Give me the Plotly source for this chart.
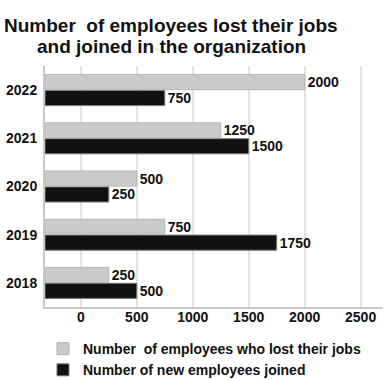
import plotly.graph_objects as go

years = ["2018", "2019", "2020", "2021", "2022"]
lost_jobs = [250, 750, 500, 1250, 2000]
new_joined = [500, 1750, 250, 1500, 750]
x_ticks = [0, 500, 1000, 1500, 2000, 2500]
title_lines = ["Number\u00a0 of employees lost their jobs", "and joined in the organization"]

XMIN, XMAX = -320, 2700
FONT = "Liberation Sans, Arial, sans-serif"

fig = go.Figure()
fig.add_trace(go.Bar(
    y=years, x=[v - XMIN for v in new_joined], base=XMIN, orientation="h",
    name="Number of new employees joined",
    marker=dict(color="#111111", line=dict(color="#777777", width=1)),
    text=[str(v) for v in new_joined], textposition="outside",
    textfont=dict(family=FONT, size=14, color="#111111"),
    constraintext="none", cliponaxis=False,
))
fig.add_trace(go.Bar(
    y=years, x=[v - XMIN for v in lost_jobs], base=XMIN, orientation="h",
    name="Number\u00a0 of employees who lost their jobs",
    marker=dict(color="#cacaca", line=dict(color="#b5b5b5", width=1)),
    text=[str(v) for v in lost_jobs], textposition="outside",
    textfont=dict(family=FONT, size=14, color="#111111"),
    constraintext="none", cliponaxis=False,
))

for line, ypos in zip(title_lines, [1.170, 1.079]):
    fig.add_annotation(
        text=f"<b>{line}</b>", xref="paper", yref="paper", x=0.373, y=ypos,
        xanchor="center", yanchor="middle", showarrow=False,
        font=dict(family=FONT, size=19, color="#111111"),
    )

fig.update_layout(
    width=387, height=380,
    barmode="group", bargap=0.34, bargroupgap=0.05,
    paper_bgcolor="white", plot_bgcolor="white",
    font=dict(family=FONT, size=14, color="#111111"),
    margin=dict(l=45, r=4, t=66, b=73, autoexpand=False),
    showlegend=True,
    legend=dict(
        orientation="v", traceorder="reversed",
        x=-0.006, xanchor="left", y=-0.108, yanchor="top",
        font=dict(family=FONT, size=14, color="#111111", weight="bold"),
        tracegroupgap=0,
    ),
)
fig.update_xaxes(
    range=[XMIN, XMAX], tickvals=x_ticks, ticktext=[f"<b>{t}</b>" for t in x_ticks],
    showgrid=True, gridcolor="#e3e3e3", gridwidth=2, automargin=False,
    zeroline=False, showline=True, linecolor="#c8c8c8", linewidth=2,
    ticks="", ticklabelstandoff=-4, tickfont=dict(family=FONT, size=14, color="#111111"),
)
fig.update_yaxes(
    type="category", categoryorder="array", categoryarray=years,
    tickvals=years, ticktext=[f"<b>{y}</b>" for y in years], automargin=False,
    showgrid=False, zeroline=False, showline=True, linecolor="#c8c8c8", linewidth=2,
    ticks="", ticklen=0, ticklabelstandoff=3, tickfont=dict(family=FONT, size=14, color="#111111"),
)
fig.update_traces(textfont_weight="bold")

fig.write_html("out.html", config={"displayModeBar": False},
               post_script="document.body.style.margin='0';")
